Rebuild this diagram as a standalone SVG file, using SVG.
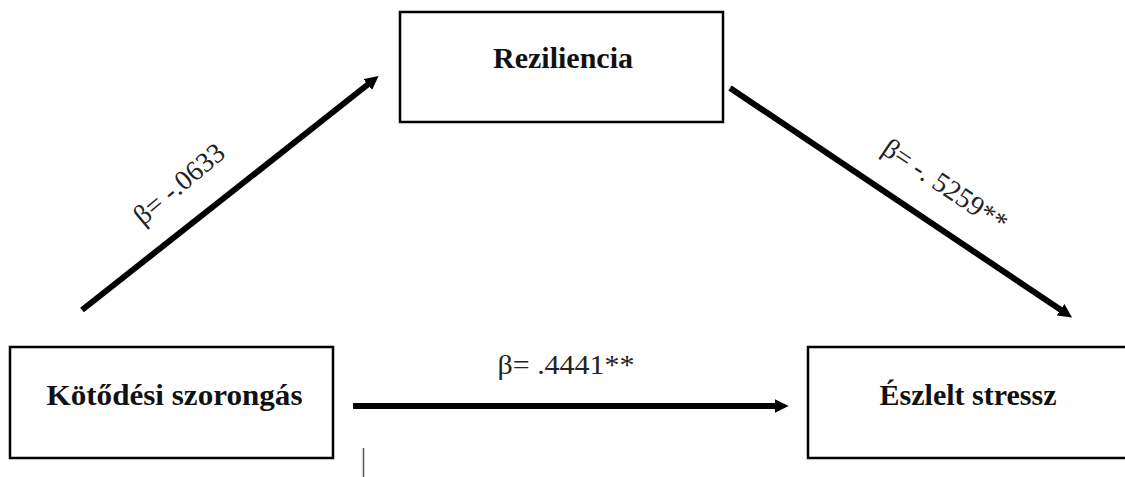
<svg xmlns="http://www.w3.org/2000/svg" width="1125" height="477" viewBox="0 0 1125 477">
  <style>
    .box { fill: #ffffff; stroke: #000000; stroke-width: 2.5; }
    .node-text { font-family: "Liberation Serif", "Times New Roman", serif; font-weight: bold; font-size: 30px; fill: #111111; text-anchor: middle; }
    .label { font-family: "Liberation Serif", "Times New Roman", serif; font-size: 28px; fill: #222222; text-anchor: middle; }
    .conn { stroke: #000000; stroke-width: 6; fill: none; marker-end: url(#arrow); }
  </style>
  <defs>
    <marker id="arrow" viewBox="0 0 10 10" refX="3" refY="5" markerWidth="2.3" markerHeight="2.3" orient="auto" markerUnits="strokeWidth">
      <path d="M0,0 L10,5 L0,10 z" fill="#000000"/>
    </marker>
  </defs>
  <rect width="1125" height="477" fill="#ffffff"/>

  <g id="node-reziliencia">
    <rect class="box" x="400" y="12" width="323" height="110"/>
    <text class="node-text" x="563" y="68">Reziliencia</text>
  </g>
  <g id="node-kotodesi">
    <rect class="box" x="10" y="347" width="323" height="111"/>
    <text class="node-text" x="174.5" y="405" textLength="256" lengthAdjust="spacingAndGlyphs">Kötődési szorongás</text>
  </g>
  <g id="node-eszlelt">
    <rect class="box" x="808" y="347" width="320" height="111"/>
    <text class="node-text" x="968" y="405">Észlelt stressz</text>
  </g>

  <g id="connectors">
    <line class="conn" x1="82" y1="310" x2="371" y2="82"/>
    <line class="conn" x1="730" y1="88" x2="1064" y2="312"/>
    <line class="conn" x1="353" y1="406" x2="779" y2="406"/>
    <text class="label" transform="translate(185,191) rotate(-40)">β= -.0633</text>
    <text class="label" transform="translate(940,193) rotate(34)">β= -. 5259**</text>
    <text class="label" x="566" y="374" textLength="137" lengthAdjust="spacingAndGlyphs">β= .4441**</text>
  </g>

  <line x1="363.5" y1="448" x2="363.5" y2="477" stroke="#555555" stroke-width="1.5"/>
</svg>
